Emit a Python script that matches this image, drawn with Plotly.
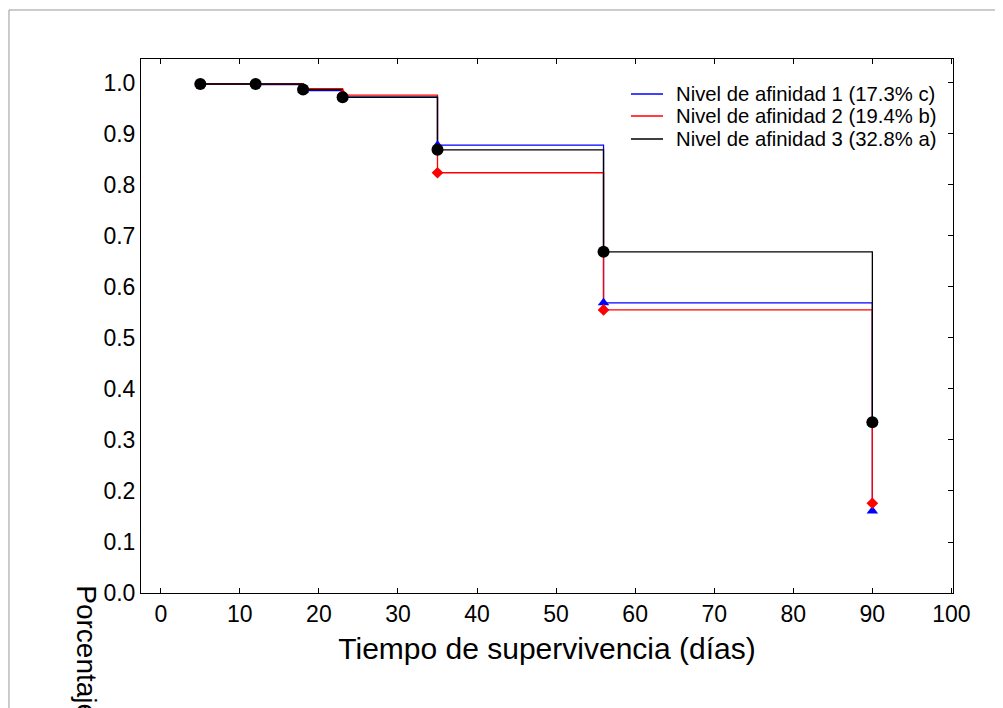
import plotly.graph_objects as go

times = [5, 12, 18, 23, 35, 56, 90]
nivel1 = [0.998, 0.997, 0.985, 0.972, 0.878, 0.569, 0.161]
nivel2 = [0.998, 0.998, 0.989, 0.976, 0.824, 0.555, 0.176]
nivel3 = [0.998, 0.998, 0.987, 0.972, 0.869, 0.669, 0.335]

names = ["Nivel de afinidad 1 (17.3% c)",
         "Nivel de afinidad 2 (19.4% b)",
         "Nivel de afinidad 3 (32.8% a)"]
colors = ["#0000ff", "#ff0000", "#000000"]
symbols = ["triangle-up", "diamond", "circle"]
msizes = [10, 9, 12]
series = [nivel1, nivel2, nivel3]

fig = go.Figure()
for s, n, c in zip(series, names, colors):
    fig.add_trace(go.Scatter(x=times, y=s, mode="lines", line_shape="hv",
                             line=dict(color=c, width=1.3), name=n, showlegend=False))
for s, c, sym, ms in zip(series, colors, symbols, msizes):
    fig.add_trace(go.Scatter(x=times, y=s, mode="markers", showlegend=False,
                             marker=dict(color=c, symbol=sym, size=ms, line=dict(width=0))))
fig.add_trace(go.Scatter(x=[None], y=[None], yaxis="y2", showlegend=False))

font = "Liberation Sans, Arial, sans-serif"
fig.update_layout(
    width=995, height=700,
    margin=dict(l=133, r=50, t=51, b=115),
    paper_bgcolor="white", plot_bgcolor="white",
    font=dict(family=font, color="black"),
    xaxis=dict(range=[-2.5, 100.2], tickmode="array", tickvals=list(range(0, 101, 10)),
               ticks="inside", ticklen=5, tickcolor="black", mirror="ticks",
               showline=True, linecolor="black", linewidth=1, showgrid=False, zeroline=False,
               tickfont=dict(size=23),
               title=dict(text="Tiempo de supervivencia (días)", font=dict(size=30), standoff=12)),
    yaxis=dict(range=[0, 1.047], tickmode="array", tickvals=[i / 10 for i in range(11)],
               ticktext=[f"{i/10:.1f}" for i in range(11)],
               ticks="", showline=True, linecolor="black", linewidth=1, mirror=True,
               showgrid=False, zeroline=False, tickfont=dict(size=23)),
    yaxis2=dict(range=[0, 1.047], overlaying="y", side="right", tickmode="array",
                tickvals=[i / 10 for i in range(11)], ticks="inside", ticklen=5,
                tickcolor="black", showticklabels=False, showgrid=False, zeroline=False,
                showline=False),
    showlegend=False,
)

# manual legend (tight row spacing as in the reference)
leg_rows = [0.9345, 0.8933, 0.8502]
for n, c, yy in zip(names, colors, leg_rows):
    fig.add_shape(type="line", xref="paper", yref="paper", x0=0.6034, x1=0.6429, y0=yy, y1=yy,
                  line=dict(color=c, width=1.3))
    fig.add_annotation(text=n, xref="paper", yref="paper", x=0.6564, y=yy, xanchor="left",
                       yanchor="middle", showarrow=False, font=dict(size=20.3, family=font))

fig.add_annotation(text="Porcentaje de supervivencia", textangle=90, xref="paper", yref="paper",
                   x=-0.067, y=0.019, xanchor="center", yanchor="top", showarrow=False,
                   font=dict(size=28, family=font))
fig.add_shape(type="rect", xref="paper", yref="paper", x0=-0.1626, y0=-0.3, x1=1.2, y1=1.0918,
              line=dict(color="#999999", width=1), layer="below")
fig.write_html("out.html")
